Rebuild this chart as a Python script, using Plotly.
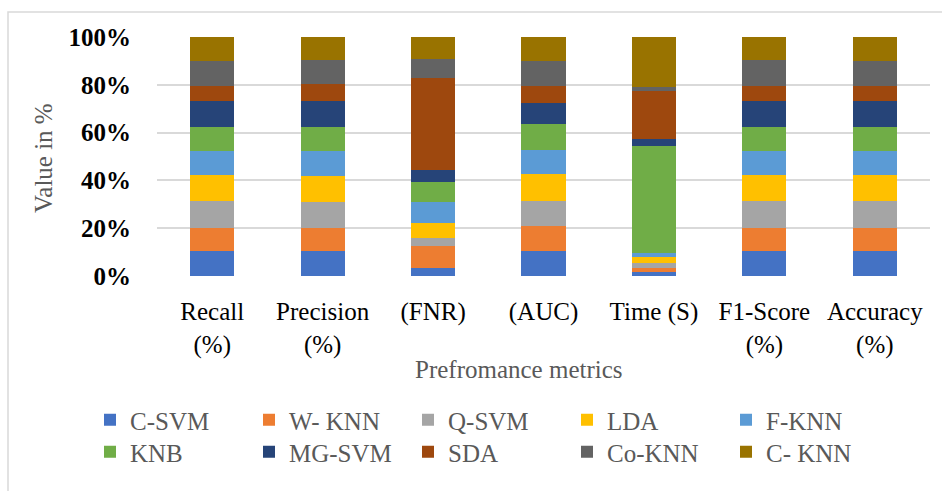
import plotly.graph_objects as go

# Performance metrics on the x axis
metrics = ["Recall<br>(%)", "Precision<br>(%)", "(FNR)", "(AUC)", "Time (S)",
           "F1-Score<br>(%)", "Accuracy<br>(%)"]

# Classifier shares per metric (normalised to 100% when stacked)
c_svm = [10.35, 10.35, 3.4, 10.35, 1.8, 10.35, 10.35]
w_knn = [9.9, 9.9, 9.1, 10.5, 1.7, 9.9, 9.9]
q_svm = [11.3, 10.8, 3.6, 10.6, 1.8, 11.2, 11.2]
lda = [10.5, 10.8, 5.9, 11.3, 2.7, 10.7, 10.7]
f_knn = [10.2, 10.5, 9.1, 10.1, 1.8, 10.1, 10.1]
knb = [10.2, 10.2, 8.4, 10.6, 44.7, 10.2, 10.2]
mg_svm = [10.8, 10.8, 4.9, 9.1, 2.7, 10.8, 10.8]
sda = [6.4, 7.0, 38.5, 7.1, 20.3, 6.4, 6.4]
co_knn = [10.1, 9.9, 8.1, 10.1, 1.5, 10.5, 10.1]
c_knn = [10.2, 9.8, 9.1, 10.2, 21.0, 9.8, 10.2]

series_names = ["C-SVM", "W- KNN", "Q-SVM", "LDA", "F-KNN",
                "KNB", "MG-SVM", "SDA", "Co-KNN", "C- KNN"]
series_values = [c_svm, w_knn, q_svm, lda, f_knn, knb, mg_svm, sda, co_knn, c_knn]
series_colors = ["#4472C4", "#ED7D31", "#A5A5A5", "#FFC000", "#5B9BD5",
                 "#70AD47", "#264478", "#9E480E", "#636363", "#997300"]

y_ticks = [0, 20, 40, 60, 80, 100]

SERIF = "Liberation Serif, Times New Roman, serif"

W, H = 942, 491
L, R, T, B = 157, 12, 37, 215
pw, ph = W - L - R, H - T - B


def px_x(x):
    return (x - L) / pw


def px_y(y):
    return (H - B - y) / ph


fig = go.Figure()
for i, (name, vals, col) in enumerate(zip(series_names, series_values, series_colors)):
    # first five classifiers in the top legend row, the rest in the second row
    fig.add_trace(go.Bar(x=metrics, y=vals, name=name,
                         legend="legend" if i < 5 else "legend2",
                         marker=dict(color=col, line=dict(width=0))))

legend_style = dict(orientation="h", xanchor="left", yanchor="middle",
                    entrywidth=114, entrywidthmode="pixels",
                    font=dict(family=SERIF, size=25, color="#595959"),
                    itemclick=False, traceorder="normal",
                    bgcolor="rgba(0,0,0,0)")

fig.update_layout(
    width=W, height=H,
    margin=dict(l=L, r=R, t=T, b=B),
    barmode="stack", barnorm="percent", bargap=0.6,
    paper_bgcolor="white", plot_bgcolor="white",
    font=dict(family=SERIF, size=25, color="#000000"),
    showlegend=True,
    legend=dict(x=px_x(90), y=px_y(420), **legend_style),
    legend2=dict(x=px_x(90), y=px_y(452), **legend_style),
    xaxis=dict(showgrid=False, showline=False, ticks="",
               tickfont=dict(family=SERIF, size=25, color="#000000"),
               ticklabelstandoff=18),
    yaxis=dict(range=[0, 100], tickvals=y_ticks,
               ticktext=[f"<b>{v}%</b>" for v in y_ticks],
               showgrid=True, gridcolor="#D9D9D9", gridwidth=2,
               zeroline=False, showline=False, ticks="",
               tickfont=dict(family=SERIF, size=25, color="#000000"),
               ticklabelstandoff=25),
    annotations=[
        dict(text="Value in %", textangle=-90, x=px_x(43), y=px_y(158),
             xref="paper", yref="paper", showarrow=False,
             xanchor="center", yanchor="middle",
             font=dict(family=SERIF, size=25, color="#595959")),
        dict(text="Prefromance metrics", x=px_x(519), y=px_y(369),
             xref="paper", yref="paper", showarrow=False,
             xanchor="center", yanchor="middle",
             font=dict(family=SERIF, size=25, color="#595959")),
    ],
    shapes=[dict(type="rect", xref="paper", yref="paper",
                 x0=px_x(8), y0=px_y(510), x1=px_x(960), y1=px_y(12),
                 line=dict(color="#D9D9D9", width=1.5), layer="below")],
)

fig.write_html("out.html")
